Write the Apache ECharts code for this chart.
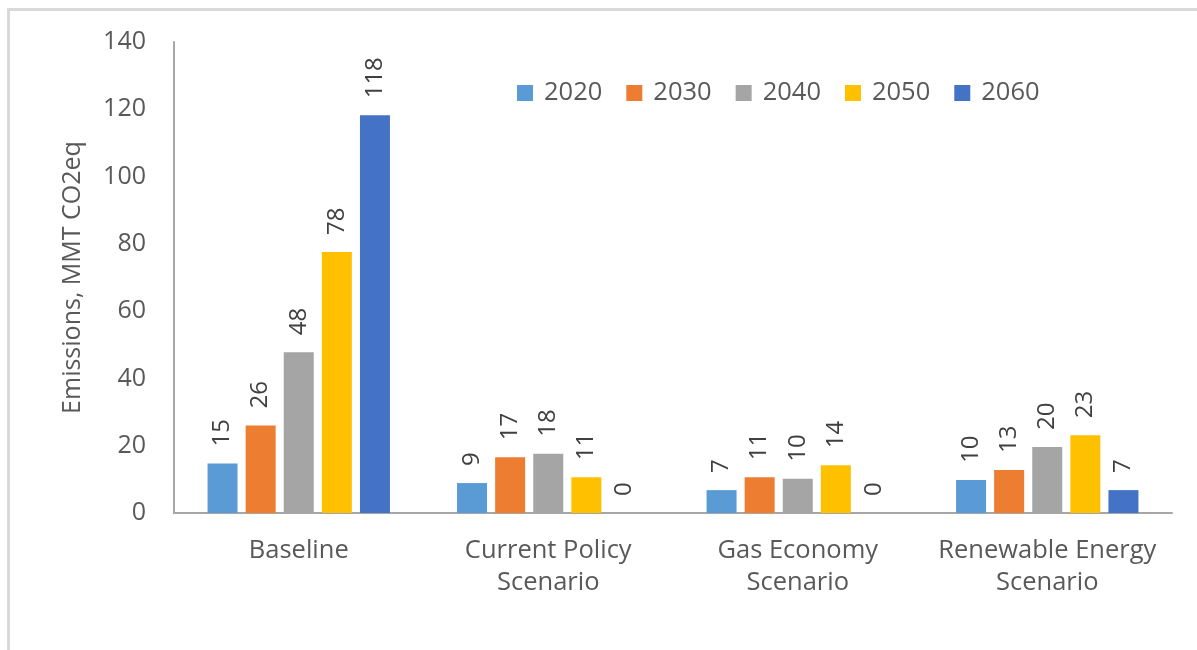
<!DOCTYPE html>
<html>
<head>
<meta charset="utf-8">
<script src="https://cdn.jsdelivr.net/npm/echarts@6/dist/echarts.min.js"></script>
<style>
html,body{margin:0;padding:0;background:#fff;}
#frame{position:absolute;left:7px;top:8px;width:1190px;height:642px;border-left:3px solid #d9d9d9;border-top:3px solid #d9d9d9;box-sizing:border-box;}
#chart{position:absolute;left:0;top:0;width:1197px;height:650px;}
</style>
</head>
<body>
<div id="frame"></div>
<div id="chart"></div>
<script>
const categories = ['Baseline', 'Current Policy\nScenario', 'Gas Economy\nScenario', 'Renewable Energy\nScenario'];
const years = ['2020', '2030', '2040', '2050', '2060'];
const v2020 = [14.7, 8.9, 6.8, 9.8];
const v2030 = [26.0, 16.6, 10.6, 12.8];
const v2040 = [47.8, 17.6, 10.2, 19.6];
const v2050 = [77.6, 10.6, 14.2, 23.1];
const v2060 = [118.2, 0, 0, 6.8];
const yTicks = [0, 20, 40, 60, 80, 100, 120, 140];
const colors = ['#5b9bd5', '#ed7d31', '#a5a5a5', '#ffc000', '#4472c4'];

const FONT = '"Open Sans", sans-serif';
const seriesData = [v2020, v2030, v2040, v2050, v2060];
const chart = echarts.init(document.getElementById('chart'), null, {renderer: 'canvas'});
chart.setOption({
  animation: false,
  color: colors,
  textStyle: {fontFamily: FONT},
  legend: {
    data: years,
    left: 512,
    top: 75,
    icon: 'rect',
    itemWidth: 16,
    itemHeight: 16,
    itemGap: 24,
    textStyle: {fontFamily: FONT, fontSize: 25.5, color: '#595959', padding: [0, 0, 0, 6]}
  },
  grid: {left: 174, right: 25, top: 42, bottom: 137, containLabel: false},
  xAxis: {
    type: 'category',
    data: categories,
    axisLine: {lineStyle: {color: '#a6a6a6', width: 2}},
    axisTick: {show: false},
    axisLabel: {fontFamily: FONT, fontSize: 25.5, color: '#595959', margin: 22, lineHeight: 32, interval: 0}
  },
  yAxis: {
    type: 'value',
    min: yTicks[0],
    max: yTicks[yTicks.length - 1],
    interval: 20,
    name: 'Emissions, MMT CO2eq',
    nameLocation: 'middle',
    nameGap: 89,
    nameRotate: 90,
    nameTextStyle: {fontFamily: FONT, fontSize: 25, color: '#595959'},
    axisLine: {show: true, lineStyle: {color: '#a6a6a6', width: 2}},
    axisTick: {show: false},
    splitLine: {show: false},
    axisLabel: {fontFamily: FONT, fontSize: 25, color: '#595959', margin: 28}
  },
  series: years.map((y, i) => ({
    name: y,
    type: 'bar',
    data: seriesData[i],
    barWidth: 30,
    barGap: '27%',
    itemStyle: {color: colors[i]},
    label: {
      show: true,
      position: 'top',
      rotate: 90,
      align: 'left',
      verticalAlign: 'middle',
      distance: 17,
      fontFamily: FONT,
      fontSize: 24,
      color: '#404040',
      formatter: p => String(Math.round(p.value))
    }
  }))
});
</script>
</body>
</html>
